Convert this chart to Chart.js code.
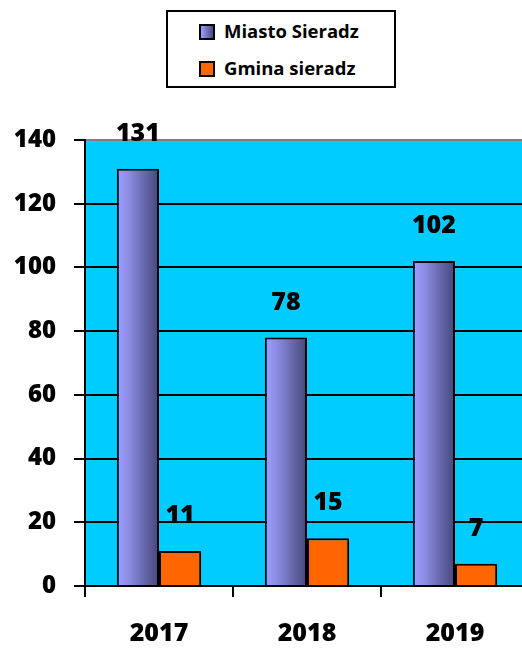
<!DOCTYPE html>
<html>
<head>
<meta charset="utf-8">
<script src="https://cdn.jsdelivr.net/npm/chart.js@4"></script>
<style>
  html, body { margin: 0; padding: 0; background: #fff; overflow: hidden; width: 522px; height: 648px; }
  #wrap { position: absolute; left: 0; top: 0; width: 531px; height: 648px; }
  #legend { position: absolute; left: 166px; top: 10px; width: 226px; height: 74px;
    border: 2px solid #000; background: #fff; font-family: "Open Sans", sans-serif; font-weight: 700; font-size: 18.5px; }
  .item { position: absolute; left: 31px; height: 20px; line-height: 20px; white-space: nowrap; }
  .sw { display: inline-block; width: 12px; height: 12px; border: 2px solid #000; vertical-align: -2px; margin-right: 9px; }
</style>
</head>
<body>
<div id="legend"></div>
<div id="wrap"><canvas id="chart1" width="531" height="648"></canvas></div>
<script>
var years = ['2017', '2018', '2019'];
var seriesNames = ['Miasto Sieradz', 'Gmina sieradz'];
var miasto = [131, 78, 102];
var gmina = [11, 15, 7];
var yTicks = [0, 20, 40, 60, 80, 100, 120, 140];

var catPct = 0.57;
var fontFam = '"Open Sans"';

// legend as real text
var leg = document.getElementById('legend');
var swatches = ['linear-gradient(to right, #9d9dff, #4a4a7c)', '#ff6600'];
seriesNames.forEach(function (name, i) {
  var d = document.createElement('div');
  d.className = 'item';
  d.style.top = (i === 0 ? 9 : 46) + 'px';
  d.innerHTML = '<span class="sw" style="background:' + swatches[i] + '"></span>' + name;
  leg.appendChild(d);
});

function miastoFill(ctx) {
  var chart = ctx.chart;
  if (!chart.chartArea) return '#9999ff';
  var xs = chart.scales.x;
  var catW = xs.width / years.length;
  var w = catW * catPct / 2;
  var c = xs.getPixelForValue(ctx.dataIndex);
  var g = chart.ctx.createLinearGradient(c - w, 0, c, 0);
  g.addColorStop(0, '#9d9dff');
  g.addColorStop(0.25, '#8f8fe8');
  g.addColorStop(1, '#46467a');
  return g;
}

var plotBg = {
  id: 'plotBg',
  beforeDraw: function (chart) {
    var a = chart.chartArea, c = chart.ctx;
    c.save();
    c.fillStyle = '#00ccff';
    c.fillRect(a.left, a.top, a.right - a.left, a.bottom - a.top);
    c.restore();
  }
};

var valueLabels = {
  id: 'valueLabels',
  afterDatasetsDraw: function (chart) {
    var c = chart.ctx;
    c.save();
    c.font = '800 25px ' + fontFam;
    c.fillStyle = '#000';
    c.textAlign = 'center';
    c.textBaseline = 'middle';
    chart.data.datasets.forEach(function (ds, di) {
      chart.getDatasetMeta(di).data.forEach(function (bar, i) {
        c.fillText(String(ds.data[i]), bar.x, bar.y - 35);
      });
    });
    c.restore();
  }
};

var graph = document.getElementById('chart1');

var myChart = new Chart(graph, {
  type: 'bar',
  data: {
    labels: years,
    datasets: [{
      label: seriesNames[0],
      data: miasto,
      backgroundColor: miastoFill,
      borderColor: '#000',
      borderWidth: 2,
      borderSkipped: 'bottom'
    }, {
      label: seriesNames[1],
      data: gmina,
      backgroundColor: '#ff6600',
      borderColor: '#000',
      borderWidth: 2,
      borderSkipped: 'bottom'
    }]
  },
  options: {
    responsive: false,
    animation: false,
    layout: { padding: { top: 140, right: 2, left: 0, bottom: 0 } },
    datasets: { bar: { categoryPercentage: catPct, barPercentage: 1 } },
    plugins: {
      legend: { display: false },
      tooltip: { enabled: false }
    },
    scales: {
      x: {
        afterFit: function (s) { s.height = 62; },
        grid: { drawOnChartArea: false, drawTicks: true, tickLength: 11, color: '#000', lineWidth: 2, offset: true },
        border: { color: '#000', width: 2 },
        ticks: { color: '#000', padding: 22, font: { family: fontFam, weight: '800', size: 25 } }
      },
      y: {
        min: 0,
        max: 140,
        afterFit: function (s) { s.width = 85; },
        afterBuildTicks: function (s) { s.ticks = yTicks.map(function (v) { return { value: v }; }); },
        grid: {
          color: function (ctx) { return ctx.tick && ctx.tick.value === 140 ? '#808080' : '#000'; },
          tickColor: '#000',
          lineWidth: 2,
          tickLength: 11
        },
        border: { color: '#000', width: 2 },
        ticks: { color: '#000', padding: 18, font: { family: fontFam, weight: '800', size: 24 } }
      }
    }
  },
  plugins: [plotBg, valueLabels]
});
</script>
</body>
</html>
